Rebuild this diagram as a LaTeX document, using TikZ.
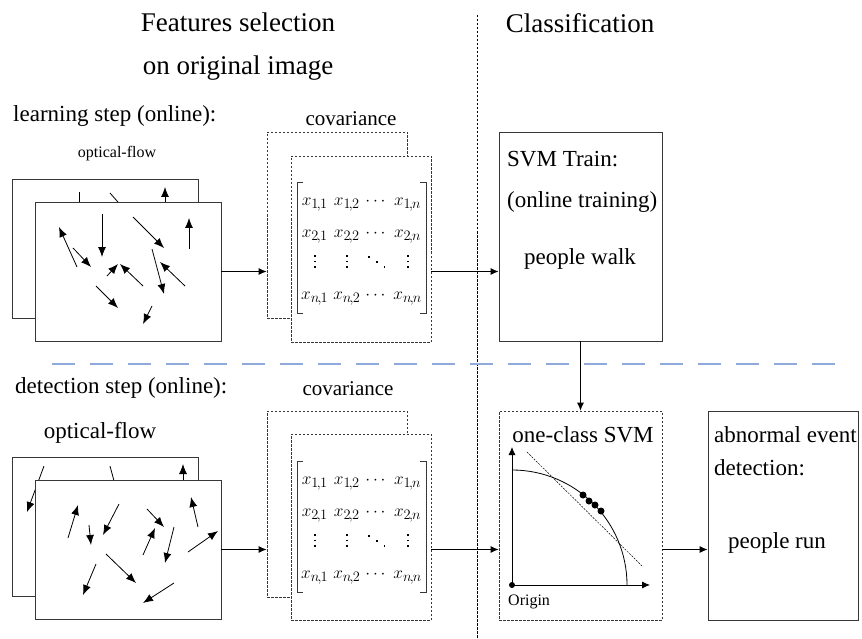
\documentclass[tikz,border=0pt]{standalone}
\usepackage{amsmath}
\usepackage{fontspec}
\setmainfont{Liberation Serif}
\usetikzlibrary{arrows.meta, positioning}
\usepackage{xcolor}
\definecolor{sepBlue}{RGB}{143, 170, 218}
\definecolor{frameGray}{RGB}{55, 55, 55}

\newcommand\sizeTitle{\fontsize{27}{32}\selectfont}
\newcommand\sizeBody{\fontsize{23}{27}\selectfont}
\newcommand\sizeCov{\fontsize{21}{25}\selectfont}
\newcommand\sizeMat{\fontsize{19}{23}\selectfont}
\newcommand\sizeSmall{\fontsize{16}{19}\selectfont}
\newcommand\elem[2]{x_{#1\mkern-2mu,\mkern-1mu#2}}
\newcommand\matDot{\rule{1.8pt}{1.8pt}}
\newcommand\colDots{\vbox{\hbox{\matDot}\vskip3.5pt\hbox{\matDot}\vskip3.5pt\hbox{\matDot}}}
\newcommand\diagDots{\mathinner{\raisebox{10pt}{\matDot}\mkern6mu\raisebox{5pt}{\matDot}\mkern6mu\matDot}}
\newcommand\covMatrix{%
    $\setlength\arraycolsep{2.5pt}\begin{matrix}
        \elem{1}{1} & \elem{1}{2} & \cdots & \elem{1}{n}\\[9pt]
        \elem{2}{1} & \elem{2}{2} & \cdots & \elem{2}{n}\\[7pt]
        \colDots & \colDots & \diagDots & \colDots\\[9pt]
        \elem{n}{1} & \elem{n}{2} & \cdots & \elem{n}{n}
    \end{matrix}$}

\begin{document}
\begin{tikzpicture}
    [
        x=1pt, y=-1pt,
        >={Latex[length=8pt, width=7pt]},
        flowbox/.style={
            draw=frameGray, line width=0.9pt, fill=white,
            minimum width=186pt, minimum height=139pt, inner sep=0pt
        },
        covbox/.style={
            draw=frameGray, line width=0.7pt, dash pattern=on 2.5pt off 1.5pt,
            fill=white, minimum width=140pt, minimum height=186pt, inner sep=0pt
        },
        stagebox/.style={
            draw=frameGray, line width=0.9pt, fill=white,
            minimum width=163pt, minimum height=209pt, inner sep=0pt
        },
        matbox/.style={
            font=\sizeMat, inner xsep=4pt, inner ysep=3pt,
            minimum width=127pt, minimum height=130pt
        },
        bracket/.style={line width=0.8pt, frameGray},
        flowvec/.style={-{Latex[length=10pt, width=8pt]}, line width=0.8pt},
        link/.style={->, line width=0.9pt},
        caption/.style={inner sep=0pt, anchor=base},
        leftcaption/.style={inner sep=0pt, anchor=base west}
    ]

\useasboundingbox (0,0) rectangle (862,639);

% Headings and separators
\node (featTitle) [caption, font=\sizeTitle] at (238,32) {Features selection};
\node (featSub) [caption, font=\sizeTitle] at (238,75) {on original image};
\node (classTitle) [caption, font=\sizeTitle] at (580,33) {Classification};

\draw [line width=0.6pt, dash pattern=on 2.5pt off 1.5pt] (477,15) -- (477,639);
\draw [sepBlue, line width=2.5pt, dash pattern=on 23pt off 15pt] (52,364) -- (837,364);

% Learning step
\node (learnLabel) [leftcaption, font=\sizeBody] at (13,122) {learning step (online):};
\node (flowLabelL) [caption, font=\sizeSmall] at (117,158) {optical-flow};

\node (flowBackL) [flowbox] at (105,248.5) {};
\foreach \xa/\ya/\xb/\yb in {79/192/79/240, 110/193/132/218, 165/215/165/187}
    \draw [flowvec] (\xa,\ya) -- (\xb,\yb);
\node (flowL) [flowbox] at (128,271.5) {};
\foreach \xa/\ya/\xb/\yb in {
        77/267/59/227, 73/248/91/267, 102/214/102/257, 133/217/164/248,
        189/249/189/218, 107/276/118/264, 143/286/120/264, 152/249/164/294,
        185/286/160/262, 96/286/118/308, 152/306/143/324}
    \draw [flowvec] (\xa,\ya) -- (\xb,\yb);

\node (covLabelL) [caption, font=\sizeCov] at (351,126) {covariance};
\node (covBackL) [covbox] at (337,225) {};
\node (covL) [covbox] at (361,249) {};
\node (matL) [matbox] at (361.5,248) {\covMatrix};

\node (svmTrain) [stagebox] at (580.5,236.5) {};
\node (svmTrainHead) [leftcaption, font=\sizeBody] at (507,167) {SVM Train:};
\node (svmTrainNote) [leftcaption, font=\sizeBody] at (507,208) {(online training)};
\node (svmTrainText) [caption, font=\sizeBody] at (580,265) {people walk};

% Detection step
\node (detectLabel) [leftcaption, font=\sizeBody] at (15,393) {detection step (online):};
\node (flowLabelD) [caption, font=\sizeBody] at (100,438) {optical-flow};

\node (flowBackD) [flowbox] at (105,526.5) {};
\foreach \xa/\ya/\xb/\yb in {44/466/27/512, 110/466/117/492, 183/495/183/464}
    \draw [flowvec] (\xa,\ya) -- (\xb,\yb);
\node (flowD) [flowbox] at (128,549.5) {};
\foreach \xa/\ya/\xb/\yb in {
        68/538/78/505, 89/525/91/545, 119/504/103/535, 147/509/164/527,
        198/527/191/497, 143/555/155/528, 174/527/165/563, 188/552/218/531,
        106/554/136/583, 96/564/83/595, 174/583/143/603}
    \draw [flowvec] (\xa,\ya) -- (\xb,\yb);

\node (covLabelD) [caption, font=\sizeCov] at (348,395) {covariance};
\node (covBackD) [covbox] at (337,504) {};
\node (covD) [covbox] at (361,527) {};
\node (matD) [matbox] at (361.5,527) {\covMatrix};

% Matrix brackets
\foreach \m in {matL, matD} {
    \draw [bracket] ([xshift=6pt]\m.north west) -| (\m.south west) -- ++(6,0);
    \draw [bracket] ([xshift=-6pt]\m.north east) -| (\m.south east) -- ++(-6,0);
}

\node (ocsvm) [stagebox, dash pattern=on 2.5pt off 1.5pt, line width=0.7pt] at (580.5,515.5) {};
\node (ocsvmText) [caption, font=\sizeBody] at (583,442) {one-class SVM};
\coordinate (origin) at (512,585);
\draw [->, line width=0.8pt] (origin) -- (512,447);
\draw [->, line width=0.8pt] (origin) -- (650,585);
\fill (origin) circle (3pt);
\draw [line width=0.8pt] (512,470) arc [start angle=-90, end angle=0, radius=115];
\draw [line width=0.5pt, dash pattern=on 2pt off 1.2pt] (527,452) -- (643,567);
\foreach \xa/\ya in {583/495, 589/501, 595/505, 601/511}
    \fill (\xa,\ya) circle (3.5pt);
\node (originText) [leftcaption, font=\sizeSmall] at (508,605) {Origin};

\node (abnormal) [stagebox, minimum width=150pt] at (783,515.5) {};
\node (abnormalHead) [leftcaption, font=\sizeBody] at (714,442) {abnormal event};
\node (abnormalNote) [leftcaption, font=\sizeBody] at (714,475) {detection:};
\node (abnormalText) [caption, font=\sizeBody] at (777,548) {people run};

% Connectors
\draw [link] (flowL.east) -- (flowL.east -| covBackL.west);
\draw [link] (flowL.east -| covL.east) -- (flowL.east -| svmTrain.west);
\draw [link] (svmTrain.south) -- (ocsvm.north);
\draw [link] (flowD.east) -- (flowD.east -| covBackD.west);
\draw [link] (flowD.east -| covD.east) -- (flowD.east -| ocsvm.west);
\draw [link] (flowD.east -| ocsvm.east) -- (flowD.east -| abnormal.west);

\end{tikzpicture}
\end{document}
